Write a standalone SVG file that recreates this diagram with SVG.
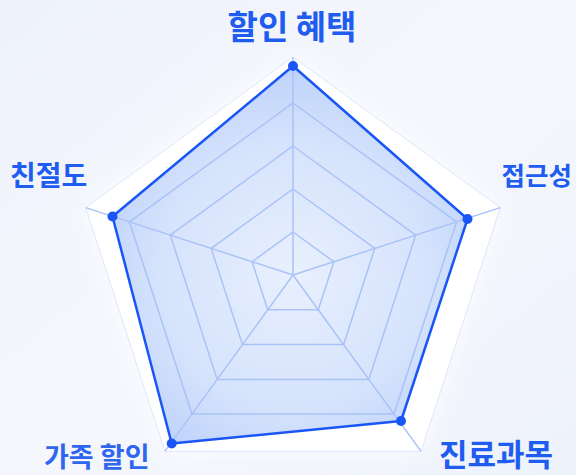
<svg xmlns="http://www.w3.org/2000/svg" width="576" height="475" viewBox="0 0 576 475">
<defs>
<linearGradient id="bg" x1="0" y1="0" x2="1" y2="1">
<stop offset="0" stop-color="#eef2fb"/>
<stop offset="0.5" stop-color="#f5f7fd"/>
<stop offset="1" stop-color="#eef2fb"/>
</linearGradient>
<radialGradient id="dataFill" cx="293" cy="275" r="220" gradientUnits="userSpaceOnUse">
<stop offset="0" stop-color="#e9f0fe"/>
<stop offset="0.6" stop-color="#d6e3fc"/>
<stop offset="1" stop-color="#bad0fa"/>
</radialGradient>
<filter id="glow" x="-30%" y="-30%" width="160%" height="160%">
<feGaussianBlur stdDeviation="12"/>
</filter>
<style>
.lbl{font-family:"Noto Sans CJK KR","Noto Sans",sans-serif;font-weight:700;fill:#1f5cf0}
.grid{fill:none;stroke:#a9c3f7;stroke-width:1.5}
.spoke{stroke:#a9c3f7;stroke-width:1.5}
.dot{fill:#1a56f5}
</style>
</defs>
<rect width="576" height="475" fill="url(#bg)"/>
<g id="frame">
<polygon points="293,57 500.3,207.6 421.1,451.4 164.9,451.4 85.7,207.6" fill="#ffffff" filter="url(#glow)" opacity="0.9"/>
<polygon points="293,57 500.3,207.6 421.1,451.4 164.9,451.4 85.7,207.6" fill="#ffffff" stroke="#dce6fb" stroke-width="1"/>
</g>
<g id="data-area">
<polygon points="293,66 467.5,219 401,421 171.7,443.5 112.5,216.5" fill="url(#dataFill)"/>
</g>
<g id="grid">
<polygon class="grid" points="293,232 333.9,261.7 318.3,309.8 267.7,309.8 252.1,261.7"/>
<polygon class="grid" points="293,189 374.8,248.4 343.6,344.6 242.4,344.6 211.2,248.4"/>
<polygon class="grid" points="293,146 415.7,235.1 368.8,379.4 217.2,379.4 170.3,235.1"/>
<polygon class="grid" points="293,103 456.6,221.9 394.1,414.1 191.9,414.1 129.4,221.9"/>
</g>
<g id="connectors">
<line class="spoke" x1="293" y1="275" x2="293" y2="57"/>
<line class="spoke" x1="293" y1="275" x2="500.3" y2="207.6"/>
<line class="spoke" x1="293" y1="275" x2="421.1" y2="451.4"/>
<line class="spoke" x1="293" y1="275" x2="164.9" y2="451.4"/>
<line class="spoke" x1="293" y1="275" x2="85.7" y2="207.6"/>
</g>
<g id="data-line">
<polygon points="293,66 467.5,219 401,421 171.7,443.5 112.5,216.5" fill="none" stroke="#1a56f5" stroke-width="2.5" stroke-linejoin="round"/>
</g>
<g id="node-top">
<circle class="dot" cx="293" cy="66" r="5"/>
<text class="lbl" x="292" y="39" font-size="33" text-anchor="middle">할인 혜택</text>
</g>
<g id="node-right">
<circle class="dot" cx="467.5" cy="219" r="5"/>
<text class="lbl" x="572" y="185" font-size="25.5" text-anchor="end">접근성</text>
</g>
<g id="node-lower-right">
<circle class="dot" cx="401" cy="421" r="5"/>
<text class="lbl" x="439" y="466" font-size="31">진료과목</text>
</g>
<g id="node-lower-left">
<circle class="dot" cx="171.7" cy="443.5" r="5"/>
<text class="lbl" x="44" y="467" font-size="27" style="fill:#2f66ee">가족 할인</text>
</g>
<g id="node-left">
<circle class="dot" cx="112.5" cy="216.5" r="5"/>
<text class="lbl" x="10" y="186" font-size="28">친절도</text>
</g>
</svg>
